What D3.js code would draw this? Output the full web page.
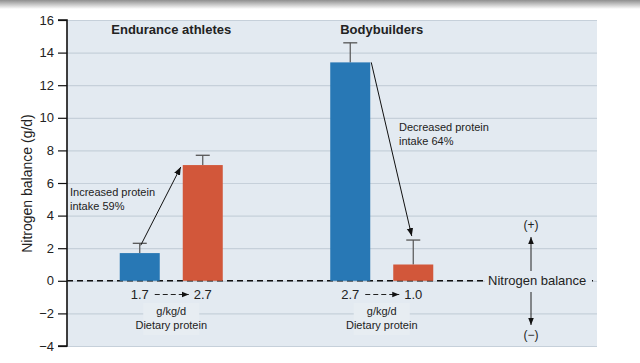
<!DOCTYPE html>
<html><head><meta charset="utf-8">
<script src="https://cdn.jsdelivr.net/npm/d3@7"></script>
<style>
html,body{margin:0;padding:0;background:#fff;}
svg{display:block;font-family:"Liberation Sans",Arial,Helvetica,sans-serif;}
</style></head>
<body>
<svg id="c" width="640" height="363"></svg>
<script>
const groups = ["Endurance athletes", "Bodybuilders"];
const conditions = ["before", "after"];
const balance = [[1.7, 7.1], [13.4, 1.0]];
const errorTop = [[2.3, 7.7], [14.6, 2.5]];
const intake = [["1.7", "2.7"], ["2.7", "1.0"]];
const changeLabels = [["Increased protein", "intake 59%"], ["Decreased protein", "intake 64%"]];
const yTicks = [-4, -2, 0, 2, 4, 6, 8, 10, 12, 14, 16];
const colors = {before: "#2878b5", after: "#d2573a"};

(function(){
const svg = d3.select("#c");
const W = 640, H = 363;
const pL = 67, pR = 597, pT = 20, pB = 346;
const bg = "#e3eaf1";

const defs = svg.append("defs");
const g0 = defs.append("linearGradient").attr("id","sh").attr("x1",0).attr("x2",0).attr("y1",0).attr("y2",1);
g0.append("stop").attr("offset","0%").attr("stop-color","#8f8f8f");
g0.append("stop").attr("offset","100%").attr("stop-color","#ffffff");
svg.append("rect").attr("x",0).attr("y",0).attr("width",W).attr("height",9).attr("fill","url(#sh)");

["arr","arrSmall"].forEach((id,i)=>{
  defs.append("marker").attr("id",id).attr("viewBox","0 0 10 10").attr("refX",10).attr("refY",5)
    .attr("markerWidth", i?7:8).attr("markerHeight", i?7:8).attr("markerUnits","userSpaceOnUse").attr("orient","auto")
    .append("path").attr("d","M0,1 L10,5 L0,9 Z").attr("fill","#111");
});

const y = d3.scaleLinear().domain([-4, 16]).range([pB, pT]);
const x0 = d3.scaleBand().domain(groups).range([66, 487]).padding(0);
const x1 = d3.scaleBand().domain(conditions).range([0, x0.bandwidth()]).paddingInner(0.365).paddingOuter(0.853);

svg.append("rect").attr("x",pL).attr("y",pT).attr("width",pR-pL).attr("height",pB-pT).attr("fill",bg);
svg.append("g").selectAll("line").data(yTicks).join("line")
  .attr("x1",pL).attr("x2",pR).attr("y1",d=>y(d)+0.5).attr("y2",d=>y(d)+0.5)
  .attr("stroke","#c6d0da").attr("stroke-width",1.2);

const ax = svg.append("g").attr("transform",`translate(${pL},0)`)
  .call(d3.axisLeft(y).tickValues(yTicks).tickSize(9).tickPadding(4).tickFormat(d=>d<0?"\u2212"+Math.abs(d):d));
ax.select(".domain").attr("stroke","#111").attr("stroke-width",1.6).attr("d",`M-9,${pT}H0V${pB}H-9`);
ax.selectAll(".tick line").attr("stroke","#111").attr("stroke-width",1.2);
ax.selectAll(".tick text").attr("font-size",13).attr("fill","#222").attr("font-family","Liberation Sans, Arial, sans-serif");

svg.append("text").attr("transform",`translate(32,183.5) rotate(-90)`)
  .attr("text-anchor","middle").attr("font-size",14).attr("fill","#222").text("Nitrogen balance (g/d)");

// zero dashed line (full width, text box covers part)
svg.append("line").attr("x1",pL).attr("x2",pR).attr("y1",y(0)).attr("y2",y(0))
  .attr("stroke","#111").attr("stroke-width",1.5).attr("stroke-dasharray","6,4");
svg.append("rect").attr("x",485).attr("y",y(0)-8).attr("width",107).attr("height",16).attr("fill",bg);
svg.append("text").attr("x",488).attr("y",y(0)+4.5).attr("font-size",13).attr("fill","#222").text("Nitrogen balance");

const gg = svg.append("g").selectAll("g").data(groups).join("g").attr("transform",d=>`translate(${x0(d)},0)`);
gg.each(function(gname, gi){
  const g = d3.select(this);
  conditions.forEach((c, ci)=>{
    const cx = x1(c) + x1.bandwidth()/2;
    g.append("line").attr("x1",cx).attr("x2",cx).attr("y1",y(balance[gi][ci])).attr("y2",y(errorTop[gi][ci]))
      .attr("stroke","#555").attr("stroke-width",1.2);
    g.append("line").attr("x1",cx-7).attr("x2",cx+7).attr("y1",y(errorTop[gi][ci])).attr("y2",y(errorTop[gi][ci]))
      .attr("stroke","#555").attr("stroke-width",1.3);
    g.append("rect").attr("x",x1(c)).attr("width",x1.bandwidth())
      .attr("y",y(balance[gi][ci])).attr("height",y(0)-y(balance[gi][ci])).attr("fill",colors[c]);
  });
  g.append("text").attr("x",x0.bandwidth()/2).attr("y",34).attr("text-anchor","middle")
    .attr("font-size",13).attr("font-weight","bold").attr("fill","#222").text(gname);
  const mid = x0.bandwidth()/2;
  g.append("rect").attr("x",mid-28).attr("y",303).attr("width",56).attr("height",32).attr("fill","#e7edf2");
  conditions.forEach((c,ci)=>{
    g.append("text").attr("x",x1(c)+x1.bandwidth()/2).attr("y",299).attr("text-anchor","middle")
      .attr("font-size",13).attr("fill","#222").text(intake[gi][ci]);
  });
  g.append("line").attr("x1",x1("before")+x1.bandwidth()/2+15).attr("x2",x1("after")+x1.bandwidth()/2-14)
    .attr("y1",294.5).attr("y2",294.5).attr("stroke","#222").attr("stroke-width",1.1)
    .attr("stroke-dasharray","5,3").attr("marker-end","url(#arrSmall)");
  g.append("text").attr("x",mid).attr("y",315).attr("text-anchor","middle").attr("font-size",11).attr("fill","#222").text("g/kg/d");
  g.append("text").attr("x",mid).attr("y",329).attr("text-anchor","middle").attr("font-size",11).attr("fill","#222").text("Dietary protein");
});

const E = groups[0], B = groups[1];
const eb = x0(E)+x1("before")+x1.bandwidth()/2, ea = x0(E)+x1("after");
svg.append("line").attr("x1",eb+1).attr("y1",y(errorTop[0][0])+2).attr("x2",ea-2).attr("y2",y(balance[0][1])+2)
  .attr("stroke","#111").attr("stroke-width",1).attr("marker-end","url(#arr)");
const bb = x0(B)+x1("before")+x1.bandwidth(), ba = x0(B)+x1("after")+x1.bandwidth()/2;
svg.append("line").attr("x1",bb+1).attr("y1",y(balance[1][0])).attr("x2",ba-1.5).attr("y2",y(errorTop[1][1])-4)
  .attr("stroke","#111").attr("stroke-width",1).attr("marker-end","url(#arr)");

svg.append("text").attr("x",70).attr("y",196).attr("font-size",11).attr("fill","#222").text(changeLabels[0][0]);
svg.append("text").attr("x",70).attr("y",210).attr("font-size",11).attr("fill","#222").text(changeLabels[0][1]);
svg.append("text").attr("x",399).attr("y",131).attr("font-size",11).attr("fill","#222").text(changeLabels[1][0]);
svg.append("text").attr("x",399).attr("y",145).attr("font-size",11).attr("fill","#222").text(changeLabels[1][1]);

svg.append("text").attr("x",531).attr("y",229).attr("text-anchor","middle").attr("font-size",12).attr("fill","#222").text("(+)");
svg.append("text").attr("x",531).attr("y",339).attr("text-anchor","middle").attr("font-size",12).attr("fill","#222").text("(\u2212)");
svg.append("line").attr("x1",531).attr("x2",531).attr("y1",271).attr("y2",237).attr("stroke","#222").attr("stroke-width",1).attr("marker-end","url(#arrSmall)");
svg.append("line").attr("x1",531).attr("x2",531).attr("y1",292).attr("y2",325).attr("stroke","#222").attr("stroke-width",1).attr("marker-end","url(#arrSmall)");
})();
</script>
</body></html>
